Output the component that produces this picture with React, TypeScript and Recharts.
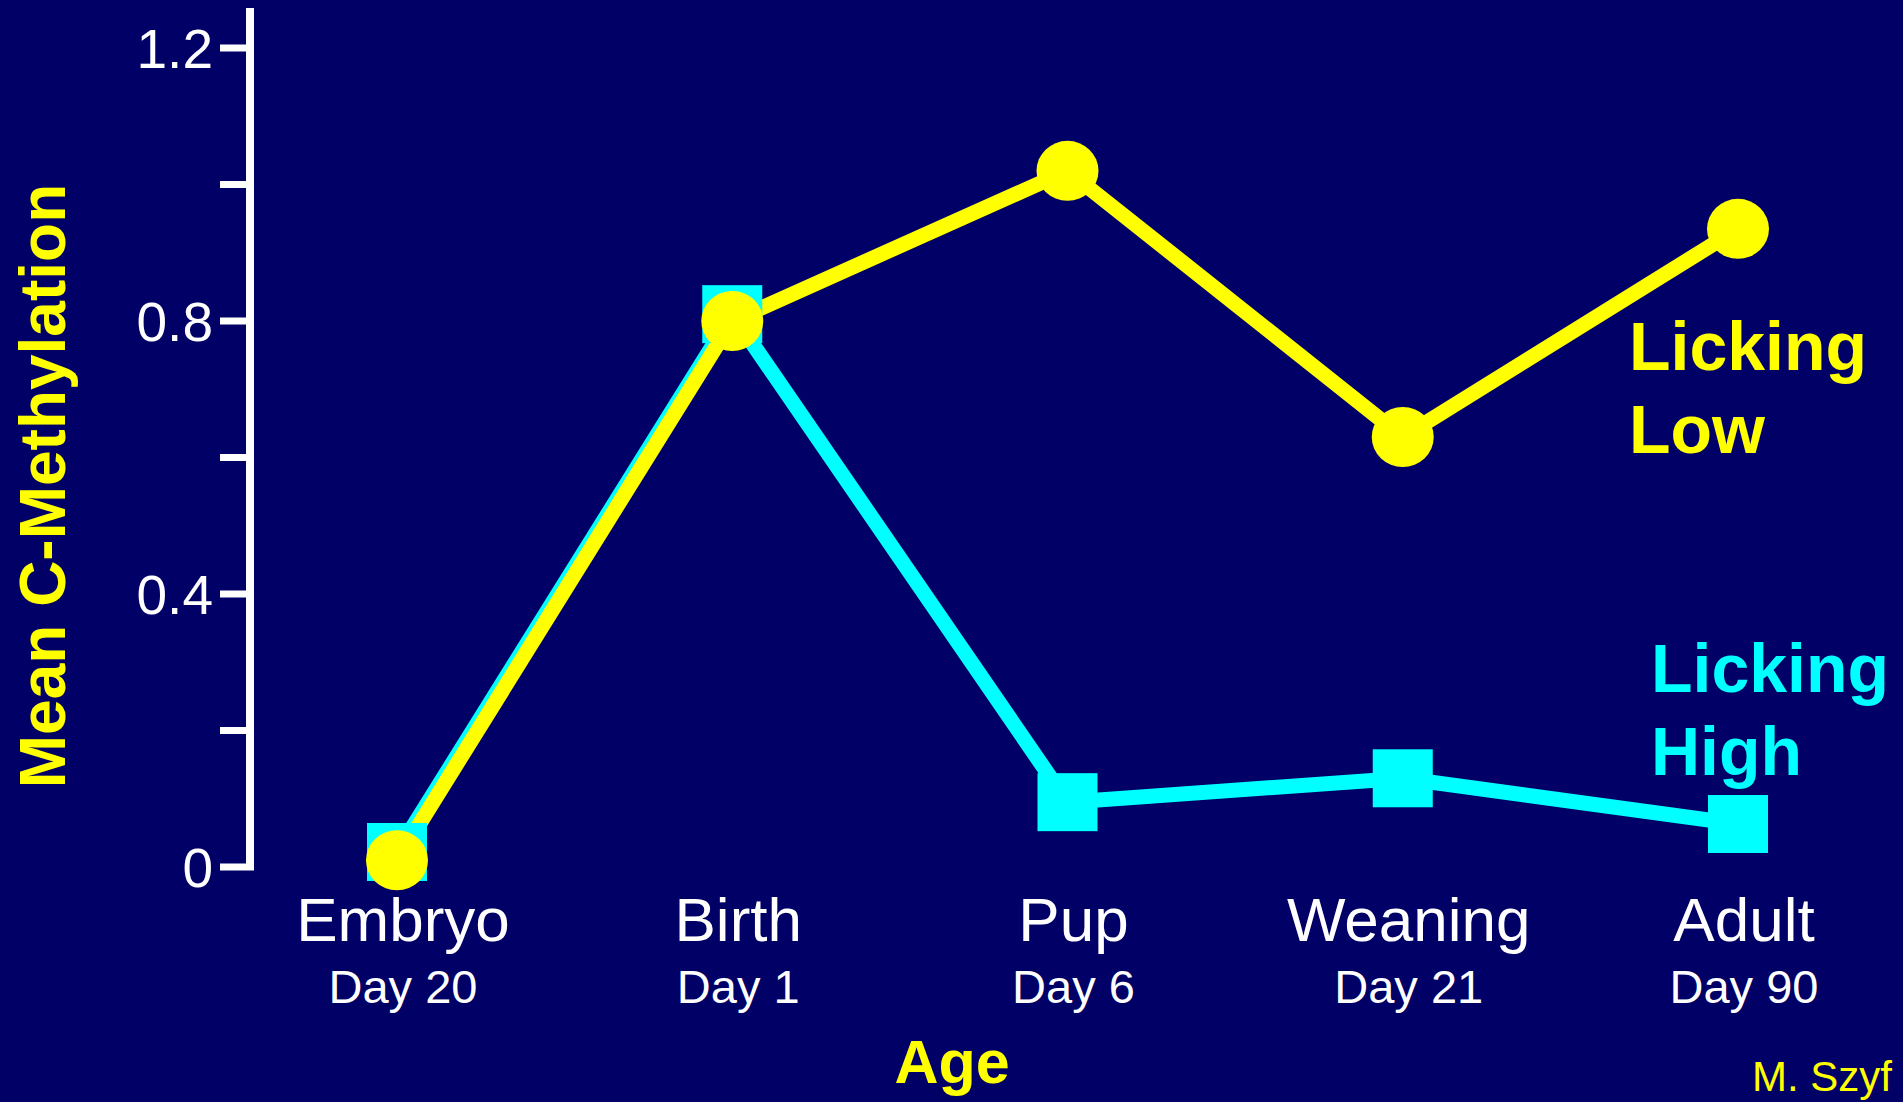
import React from 'react';
import { LineChart, Line, XAxis, YAxis, Customized } from 'recharts';

const stages = ['Embryo', 'Birth', 'Pup', 'Weaning', 'Adult'];
const days = ['Day 20', 'Day 1', 'Day 6', 'Day 21', 'Day 90'];
const lickingLow = [0.01, 0.8, 1.02, 0.63, 0.935];
const lickingHigh = [0.022, 0.81, 0.095, 0.13, 0.063];
const yTicks = [0, 0.2, 0.4, 0.6, 0.8, 1.0, 1.2];
const yLabeledTicks = [0, 0.4, 0.8, 1.2];

const data = stages.map((s, i) => ({ stage: s, day: days[i], low: lickingLow[i], high: lickingHigh[i] }));

const FONT = '"Liberation Sans", Arial, Helvetica, sans-serif';
const BG = '#000066';
const YELLOW = '#FFFF00';
const CYAN = '#00FFFF';

const XTick = (props: any) => {
  const { x, y, payload, index } = props;
  return (
    <g>
      <text x={x + 6} y={y + 74} textAnchor="middle" fontSize={62} fill="#fff" fontFamily={FONT}>
        {payload.value}
      </text>
      <text x={x + 6} y={y + 136} textAnchor="middle" fontSize={47} fill="#fff" fontFamily={FONT}>
        {days[index]}
      </text>
    </g>
  );
};

const YTick = (props: any) => {
  const { x, y, payload } = props;
  const v = payload.value;
  const labeled = yLabeledTicks.some((t) => Math.abs(t - v) < 1e-6);
  return (
    <g>
      <line x1={x - 30} x2={x + 4} y1={y} y2={y} stroke="#fff" strokeWidth={7} />
      {labeled && (
        <text x={x - 37} y={y + 20} textAnchor="end" fontSize={55} fill="#fff" fontFamily={FONT}>
          {String(Math.round(v * 10) / 10)}
        </text>
      )}
    </g>
  );
};

const SquareDot = (props: any) => {
  const { cx, cy, index } = props;
  if (cx == null || cy == null) return null;
  return <rect key={`sq-${index}`} x={cx - 30} y={cy - 29} width={60} height={58} fill={CYAN} />;
};

const CircleDot = (props: any) => {
  const { cx, cy, index } = props;
  if (cx == null || cy == null) return null;
  return <ellipse key={`ci-${index}`} cx={cx} cy={cy} rx={31} ry={30} fill={YELLOW} />;
};

const Annotations = () => (
  <g fontFamily={FONT}>
    <text transform="translate(65,486) rotate(-90)" textAnchor="middle" fontSize={64} fontWeight="bold" fill={YELLOW}>
      Mean C-Methylation
    </text>
    <text x={952} y={1083} textAnchor="middle" fontSize={61} fontWeight="bold" fill={YELLOW}>
      Age
    </text>
    <text x={1629} y={370} fontSize={68} fontWeight="bold" fill={YELLOW}>Licking</text>
    <text x={1629} y={453} fontSize={68} fontWeight="bold" fill={YELLOW}>Low</text>
    <text x={1651} y={692} fontSize={68} fontWeight="bold" fill={CYAN}>Licking</text>
    <text x={1651} y={775} fontSize={68} fontWeight="bold" fill={CYAN}>High</text>
    <text x={1752} y={1091} fontSize={42} fill={YELLOW}>M. Szyf</text>
  </g>
);

export default function App() {
  return (
    <div style={{ position: 'absolute', left: 0, top: 0, width: 1903, height: 1102, background: BG }}>
      <LineChart width={1903} height={1102} data={data} margin={{ top: 8, right: 0, bottom: 0, left: 0 }}>
        <XAxis
          dataKey="stage"
          height={235}
          axisLine={false}
          tickLine={false}
          tickSize={0}
          tickMargin={0}
          interval={0}
          padding={{ left: 147, right: 165 }}
          tick={<XTick />}
        />
        <YAxis
          width={250}
          domain={[0, 1.2586]}
          ticks={yTicks}
          interval={0}
          axisLine={{ stroke: '#fff', strokeWidth: 8 }}
          tickLine={false}
          tickSize={0}
          tickMargin={0}
          tick={<YTick />}
        />
        <Line dataKey="high" stroke={CYAN} strokeWidth={15} dot={<SquareDot />} activeDot={false} isAnimationActive={false} />
        <Line dataKey="low" stroke={YELLOW} strokeWidth={15} dot={<CircleDot />} activeDot={false} isAnimationActive={false} />
        <Customized component={Annotations} />
      </LineChart>
    </div>
  );
}
